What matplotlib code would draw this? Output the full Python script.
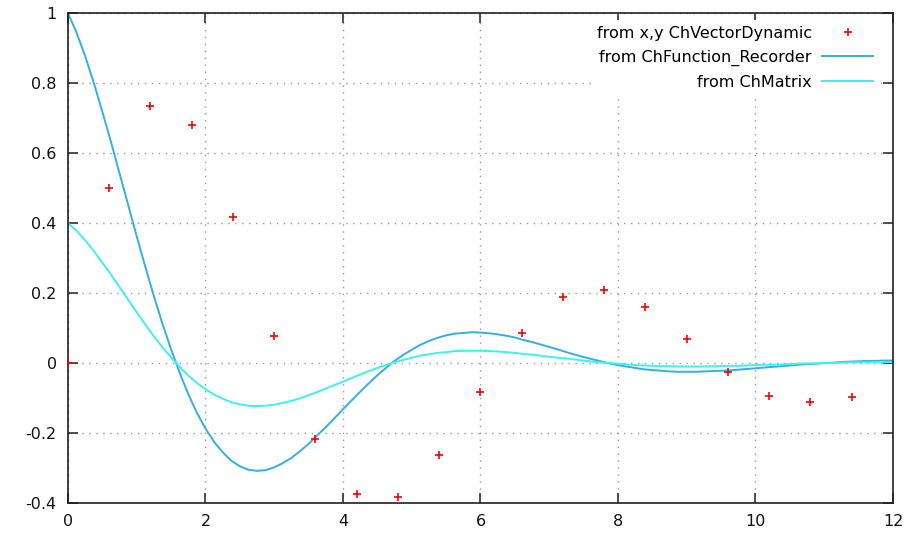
import matplotlib

matplotlib.use("Agg")
import matplotlib.pyplot as plt

# sampled points (red crosses)
PTS_X = [0.0, 0.6, 1.2, 1.8, 2.4, 3.0, 3.6, 4.2, 4.8, 5.4,
         6.0, 6.6, 7.2, 7.8, 8.4, 9.0, 9.6, 10.2, 10.8, 11.4]
PTS_Y = [0.0, 0.501, 0.733, 0.681, 0.416, 0.077, -0.216, -0.375, -0.384, -0.263,
         -0.084, 0.085, 0.188, 0.209, 0.160, 0.068, -0.025, -0.093, -0.112, -0.096]

# curves read every 0.125 along x
CURVE_X = [i * 0.125 for i in range(97)]
RECORDER_Y = [
    1.0, 0.944, 0.877, 0.801, 0.718, 0.632, 0.542, 0.452, 0.362, 0.275,
    0.191, 0.112, 0.039, -0.028, -0.089, -0.142, -0.187, -0.225, -0.255, -0.279,
    -0.295, -0.305, -0.308, -0.306, -0.298, -0.286, -0.271, -0.252, -0.231, -0.207,
    -0.183, -0.158, -0.132, -0.107, -0.082, -0.058, -0.035, -0.014, 0.006, 0.023,
    0.038, 0.052, 0.063, 0.072, 0.079, 0.084, 0.086, 0.088, 0.087, 0.085,
    0.082, 0.078, 0.073, 0.066, 0.060, 0.053, 0.046, 0.039, 0.031, 0.024,
    0.017, 0.011, 0.005, -0.001, -0.006, -0.010, -0.014, -0.018, -0.020, -0.022,
    -0.024, -0.025, -0.025, -0.025, -0.024, -0.023, -0.022, -0.021, -0.019, -0.017,
    -0.015, -0.013, -0.011, -0.009, -0.007, -0.005, -0.003, -0.002, 0.000, 0.001,
    0.003, 0.004, 0.005, 0.006, 0.006, 0.007, 0.007,
]
MATRIX_Y = [
    0.4, 0.378, 0.351, 0.320, 0.287, 0.253, 0.217, 0.181, 0.145, 0.110,
    0.076, 0.045, 0.016, -0.011, -0.036, -0.057, -0.075, -0.090, -0.102, -0.112,
    -0.118, -0.122, -0.123, -0.122, -0.119, -0.114, -0.108, -0.101, -0.092, -0.083,
    -0.073, -0.063, -0.053, -0.043, -0.033, -0.023, -0.014, -0.006, 0.002, 0.009,
    0.015, 0.021, 0.025, 0.029, 0.031, 0.034, 0.035, 0.035, 0.035, 0.034,
    0.033, 0.031, 0.029, 0.026, 0.024, 0.021, 0.018, 0.015, 0.013, 0.010,
    0.007, 0.004, 0.002, 0.000, -0.002, -0.004, -0.006, -0.007, -0.008, -0.009,
    -0.009, -0.010, -0.010, -0.010, -0.010, -0.009, -0.009, -0.008, -0.008, -0.007,
    -0.006, -0.005, -0.005, -0.004, -0.003, -0.002, -0.001, -0.001, 0.000, 0.000,
    0.001, 0.002, 0.002, 0.002, 0.003, 0.003, 0.003,
]

LABELS = ["from x,y ChVectorDynamic", "from ChFunction_Recorder", "from ChMatrix"]
X_TICKS = [0, 2, 4, 6, 8, 10, 12]
Y_TICKS = [-0.4, -0.2, 0, 0.2, 0.4, 0.6, 0.8, 1]
Y_TICK_LABELS = ["-0.4", "-0.2", "0", "0.2", "0.4", "0.6", "0.8", "1"]

COLOR_PTS = "#ff0000"
COLOR_REC = "#35aee2"
COLOR_MAT = "#3ef0f0"
FRAME = "#202020"
FONT_SIZE = 11.5

plt.rcParams["font.family"] = ["DejaVu Sans"]
plt.rcParams["font.size"] = FONT_SIZE

fig = plt.figure(figsize=(9.05, 5.38), dpi=100)
ax = fig.add_axes([0.0751, 0.065, 0.9116, 0.9108])

ax.plot(PTS_X, PTS_Y, linestyle="none", marker="+", markersize=6,
        markeredgewidth=1.2, color=COLOR_PTS, label=LABELS[0], zorder=3)
ax.plot(CURVE_X, RECORDER_Y, color=COLOR_REC, lw=1.4, label=LABELS[1], zorder=2)
ax.plot(CURVE_X, MATRIX_Y, color=COLOR_MAT, lw=1.4, label=LABELS[2], zorder=2)

ax.set_xlim(0, 12)
ax.set_ylim(-0.4, 1)
ax.set_xticks(X_TICKS)
ax.set_yticks(Y_TICKS)
ax.set_xticklabels([str(t) for t in X_TICKS])
ax.set_yticklabels(Y_TICK_LABELS)

ax.grid(True, linestyle=(0, (1, 4)), color="#999999", lw=1.0)
ax.tick_params(direction="in", length=7, width=1.1, color=FRAME,
               top=True, right=True, pad=8, labelcolor="#111111")
for sp in ax.spines.values():
    sp.set_color(FRAME)
    sp.set_linewidth(1.2)

leg = ax.legend(loc="upper right", bbox_to_anchor=(0.983, 0.985), markerfirst=False,
                frameon=True, fancybox=False, edgecolor="none", facecolor="white",
                framealpha=1, handlelength=3.2, handletextpad=0.65, borderpad=0.35,
                labelspacing=0.55, borderaxespad=0.0, fontsize=FONT_SIZE)
for t in leg.get_texts():
    t.set_ha("right")
leg._legend_box.align = "right"

fig.savefig("out.png", dpi=100)
